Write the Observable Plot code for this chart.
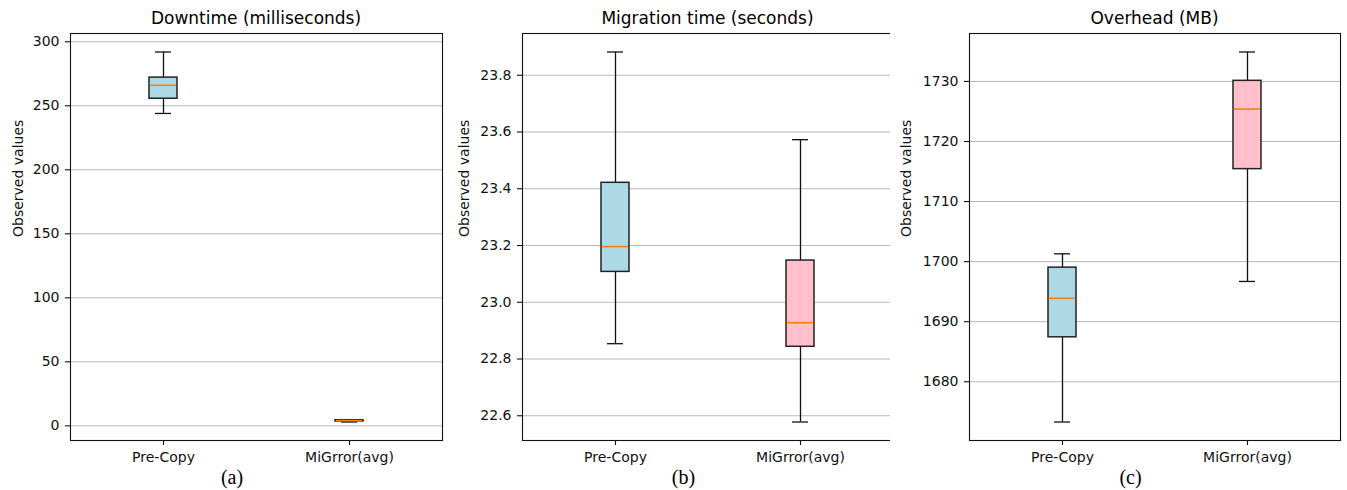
<!DOCTYPE html>
<html>
<head>
<meta charset="utf-8">
<script src="https://cdn.jsdelivr.net/npm/d3@7"></script>
<script src="https://cdn.jsdelivr.net/npm/@observablehq/plot@0.6"></script>
<style>
  body { margin: 0; background: white; }
  #wrap { position: relative; width: 1347px; height: 490px; background: white; overflow: hidden; }
  .panel { position: absolute; top: 0; }
  .title { position: absolute; font-family: "DejaVu Sans", sans-serif; font-size: 17px; color: #000; white-space: nowrap; transform: translate(-50%, -50%); }
  .caption { position: absolute; font-family: "Liberation Serif", "Times New Roman", serif; font-size: 20px; color: #000; white-space: nowrap; transform: translate(-50%, -50%); }
</style>
</head>
<body>
<div id="wrap"></div>
<script>
// Categories and box colours
const categories = ["Pre-Copy", "MiGrror(avg)"];
const boxFills = ["#add8e6", "#ffc0cb"];

// Five-number summaries [min, q1, median, q3, max]
const downtimePreCopy = [244, 255.5, 266, 272, 292];
const downtimeMiGrror = [3.0, 3.4, 4.1, 4.4, 4.8];
const migrationPreCopy = [22.854, 23.107, 23.196, 23.421, 23.882];
const migrationMiGrror = [22.578, 22.843, 22.928, 23.147, 23.573];
const overheadPreCopy = [1673.3, 1687.4, 1693.9, 1699.0, 1701.3];
const overheadMiGrror = [1696.7, 1715.4, 1725.4, 1730.1, 1734.9];

// Tick values
const downtimeTicks = [0, 50, 100, 150, 200, 250, 300];
const migrationTicks = [22.6, 22.8, 23.0, 23.2, 23.4, 23.6, 23.8];
const overheadTicks = [1680, 1690, 1700, 1710, 1720, 1730];

const titles = ["Downtime (milliseconds)", "Migration time (seconds)", "Overhead (MB)"];
const captions = ["(a)", "(b)", "(c)"];

const wrap = document.getElementById("wrap");

function panel({left, width, marginLeft, marginRight, title, caption, ticks, fmt, pre, mig, labelDx}) {
  const rows = categories.map((c, i) => {
    const s = [pre, mig][i];
    return {cat: c, min: s[0], q1: s[1], med: s[2], q3: s[3], max: s[4], fill: boxFills[i]};
  });
  const lo = d3.min(rows, d => d.min), hi = d3.max(rows, d => d.max), pad = (hi - lo) * 0.05;
  const height = 470, marginTop = 33, marginBottom = 30;
  const plot = Plot.plot({
    width, height, marginLeft, marginRight, marginTop, marginBottom,
    style: {fontFamily: "DejaVu Sans", fontSize: "14px", color: "#111", background: "white", overflow: "visible"},
    x: {type: "band", domain: categories, paddingInner: 0.85, paddingOuter: 0.425, label: null},
    y: {domain: [lo - pad, hi + pad], label: null},
    color: {type: "identity"},
    marks: [
      Plot.gridY(ticks, {stroke: "#b8b8b8", strokeOpacity: 1, strokeWidth: 1}),
      Plot.ruleX(rows, {x: "cat", y1: "min", y2: "q1", stroke: "#111", strokeWidth: 1.3}),
      Plot.ruleX(rows, {x: "cat", y1: "q3", y2: "max", stroke: "#111", strokeWidth: 1.3}),
      Plot.tickY(rows, {x: "cat", y: "min", stroke: "#111", strokeWidth: 1.3, insetLeft: 6, insetRight: 6}),
      Plot.tickY(rows, {x: "cat", y: "max", stroke: "#111", strokeWidth: 1.3, insetLeft: 6, insetRight: 6}),
      Plot.barY(rows, {x: "cat", y1: "q1", y2: "q3", fill: "fill", stroke: "#222", strokeWidth: 1.5}),
      Plot.tickY(rows, {x: "cat", y: "med", stroke: "#ff7f0e", strokeWidth: 1.6, insetLeft: 0.8, insetRight: 0.8}),
      Plot.frame({stroke: "#111", strokeWidth: 1.1}),
      Plot.axisX({tickSize: 5, tickPadding: 7, label: null, strokeWidth: 1.1}),
      Plot.axisY(ticks, {tickSize: 5, tickPadding: 6, tickFormat: fmt, label: null, strokeWidth: 1.1}),
      Plot.text(["Observed values"], {frameAnchor: "left", dx: -labelDx, rotate: -90, fontSize: 14, fill: "#111"})
    ]
  });
  const holder = document.createElement("div");
  holder.className = "panel";
  holder.style.left = left + "px";
  holder.appendChild(plot);
  wrap.appendChild(holder);

  const cx = left + marginLeft + (width - marginLeft - marginRight) / 2;
  const t = document.createElement("div");
  t.className = "title";
  t.textContent = title;
  t.style.left = cx + "px";
  t.style.top = "18px";
  wrap.appendChild(t);

  const c = document.createElement("div");
  c.className = "caption";
  c.textContent = caption;
  c.style.left = (cx - 24) + "px";
  c.style.top = "477px";
  wrap.appendChild(c);
}

panel({left: 0, width: 450, marginLeft: 70, marginRight: 8, title: titles[0], caption: captions[0],
  ticks: downtimeTicks, fmt: d => String(d), pre: downtimePreCopy, mig: downtimeMiGrror, labelDx: 52});
panel({left: 450, width: 450, marginLeft: 72, marginRight: 7, title: titles[1], caption: captions[1],
  ticks: migrationTicks, fmt: d3.format(".1f"), pre: migrationPreCopy, mig: migrationMiGrror, labelDx: 58});
panel({left: 890, width: 457, marginLeft: 79, marginRight: 7, title: titles[2], caption: captions[2],
  ticks: overheadTicks, fmt: d => String(d), pre: overheadPreCopy, mig: overheadMiGrror, labelDx: 63});
</script>
</body>
</html>
